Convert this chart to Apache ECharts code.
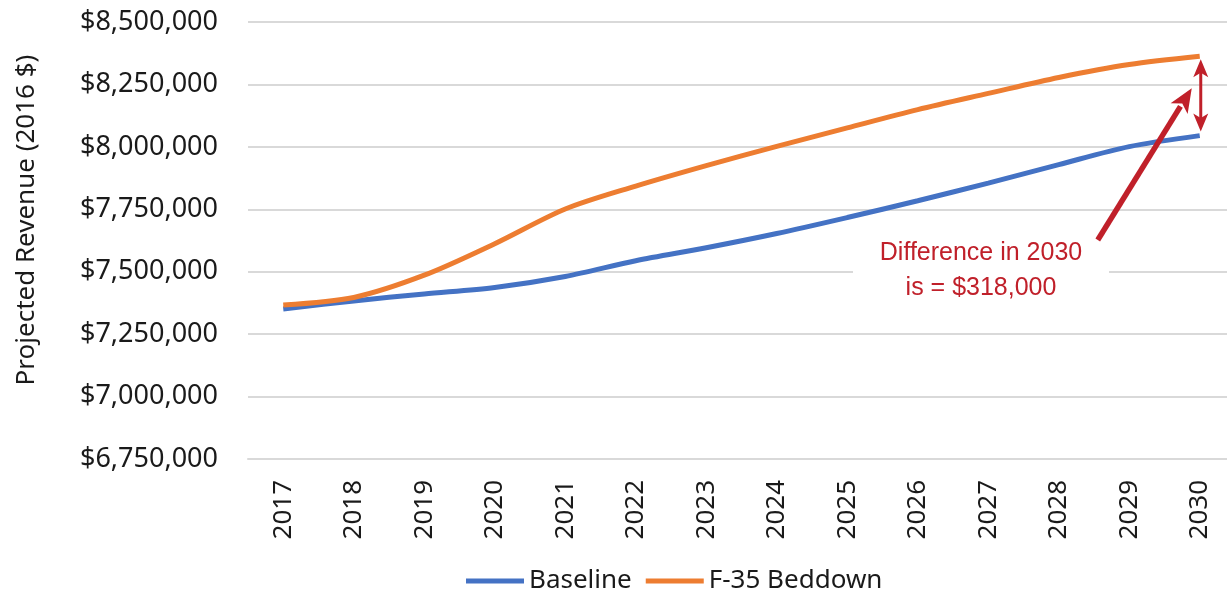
<!DOCTYPE html>
<html>
<head>
<meta charset="utf-8">
<script src="https://cdn.jsdelivr.net/npm/echarts@6/dist/echarts.min.js"></script>
<style>
  html, body { margin: 0; padding: 0; background: #fff; }
  #chart { width: 1227px; height: 594px; }
</style>
</head>
<body>
<div id="chart"></div>
<script>
// Projected annual revenue, 2016 dollars
const years = ['2017', '2018', '2019', '2020', '2021', '2022', '2023', '2024', '2025', '2026', '2027', '2028', '2029', '2030'];
const baseline = [7351000, 7383000, 7411000, 7437000, 7481000, 7544000, 7596000, 7653000, 7717000, 7784000, 7855000, 7929000, 8001000, 8045000];
const f35Beddown = [7367000, 7397000, 7486000, 7612000, 7751000, 7843000, 7925000, 8002000, 8076000, 8149000, 8214000, 8278000, 8330000, 8363000];
const seriesNames = ['Baseline', 'F-35 Beddown'];
const yMin = 6750000, yMax = 8500000, yStep = 250000;
const yTitle = 'Projected Revenue (2016 $)';
const noteLines = ['Difference in 2030', 'is = $318,000'];

const BLUE = '#4472C4', ORANGE = '#ED7D31', RED = '#C0202A', GRID = '#D9D9D9';
const FONT = '"Noto Sans", "Open Sans", sans-serif';

const chart = echarts.init(document.getElementById('chart'), null, { renderer: 'canvas' });

chart.setOption({
  animation: false,
  backgroundColor: '#fff',
  grid: { left: 248, top: 22, width: 987, height: 437, containLabel: false, outerBoundsMode: 'none' },
  legend: {
    left: 466, top: 568, padding: 0,
    itemWidth: 58, itemHeight: 5, itemGap: 14,
    icon: 'rect',
    textStyle: { fontFamily: FONT, fontSize: 26, color: '#1a1a1a' },
    data: seriesNames
  },
  xAxis: {
    type: 'category',
    data: years,
    boundaryGap: true,
    axisLine: { show: true, lineStyle: { color: GRID, width: 2 } },
    axisTick: { show: false },
    axisLabel: { rotate: 90, margin: 21, fontFamily: FONT, fontSize: 26, color: '#1a1a1a', interval: 0 }
  },
  yAxis: {
    type: 'value',
    min: yMin, max: yMax, interval: yStep,
    axisLine: { show: false },
    axisTick: { show: false },
    splitLine: { lineStyle: { color: GRID, width: 2 } },
    axisLabel: {
      margin: 30, fontFamily: FONT, fontSize: 27, color: '#1a1a1a',
      formatter: v => '$' + v.toLocaleString('en-US')
    }
  },
  series: [
    {
      name: seriesNames[0], type: 'line', data: baseline,
      smooth: 0.3, symbol: 'none',
      lineStyle: { color: BLUE, width: 5 }, itemStyle: { color: BLUE }
    },
    {
      name: seriesNames[1], type: 'line', data: f35Beddown,
      smooth: 0.3, symbol: 'none',
      lineStyle: { color: ORANGE, width: 5 }, itemStyle: { color: ORANGE }
    }
  ]
});

// Arrow head polygon pointing from (x0,y0) towards tip (x1,y1)
function arrowHead(x0, y0, x1, y1, len, halfW) {
  const dx = x1 - x0, dy = y1 - y0;
  const d = Math.hypot(dx, dy);
  const ux = dx / d, uy = dy / d;
  const bx = x1 - ux * len, by = y1 - uy * len;
  const nx = -uy, ny = ux;
  const notch = len * 0.25;
  return {
    type: 'polygon', z: 100,
    shape: { points: [
      [x1, y1],
      [bx + nx * halfW, by + ny * halfW],
      [bx + ux * notch, by + uy * notch],
      [bx - nx * halfW, by - ny * halfW]
    ] },
    style: { fill: RED }
  };
}

// Annotation: gap between the two scenarios in the final year
const last = years.length - 1;
const pTop = chart.convertToPixel({ gridIndex: 0 }, [last, f35Beddown[last]]);
const pBot = chart.convertToPixel({ gridIndex: 0 }, [last, baseline[last]]);
const ax = pTop[0] + 1;
const y1 = pTop[1] + 3, y2 = pBot[1] - 4;

// Pointer from the note towards the gap
const tail = [ax - 103, 240];
const tip = [ax - 9, pTop[1] + 32];
const shaftEnd = [tip[0] - (tip[0] - tail[0]) * 0.12, tip[1] - (tip[1] - tail[1]) * 0.12];

chart.setOption({
  graphic: [
    {
      type: 'text', z: 50,
      x: 27, y: 220, rotation: Math.PI / 2,
      style: { text: yTitle, fill: '#1a1a1a', font: '26px "Noto Sans", "Open Sans", sans-serif', align: 'center', verticalAlign: 'middle' }
    },
    {
      type: 'rect', z: 90,
      shape: { x: 853, y: 232, width: 256, height: 78 },
      style: { fill: '#fff' }
    },
    {
      type: 'text', z: 95,
      x: 981, y: 253,
      style: { text: noteLines[0], fill: RED, font: '25px "Liberation Sans", Arial, sans-serif', align: 'center', verticalAlign: 'middle' }
    },
    {
      type: 'text', z: 95,
      x: 981, y: 288,
      style: { text: noteLines[1], fill: RED, font: '25px "Liberation Sans", Arial, sans-serif', align: 'center', verticalAlign: 'middle' }
    },
    {
      type: 'line', z: 100,
      shape: { x1: ax, y1: y1 + 12, x2: ax, y2: y2 - 12 },
      style: { stroke: RED, lineWidth: 3 }
    },
    arrowHead(ax, y2, ax, y1, 18, 7.5),
    arrowHead(ax, y1, ax, y2, 18, 7.5),
    {
      type: 'line', z: 100,
      shape: { x1: tail[0], y1: tail[1], x2: shaftEnd[0], y2: shaftEnd[1] },
      style: { stroke: RED, lineWidth: 5.5 }
    },
    arrowHead(tail[0], tail[1], tip[0], tip[1], 24, 10)
  ]
});
</script>
</body>
</html>
